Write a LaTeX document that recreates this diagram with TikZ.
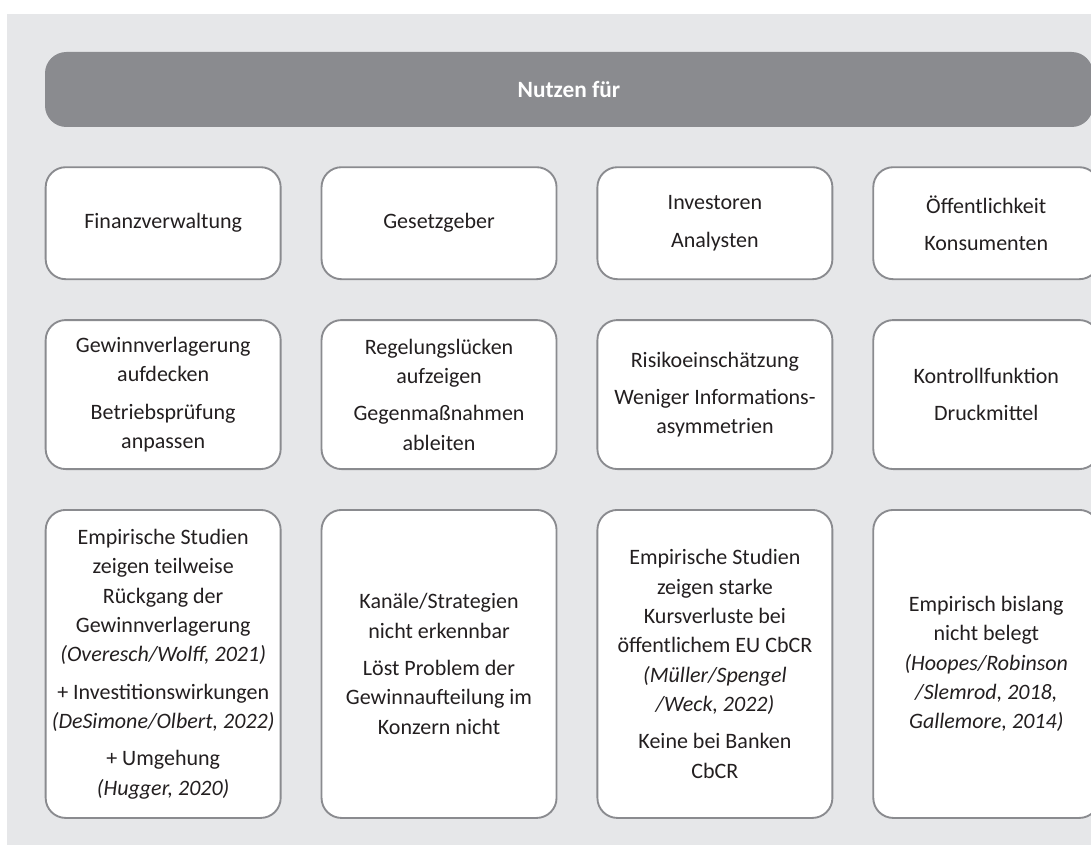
\documentclass[tikz,border=0pt]{standalone}
\usepackage{fontspec}
\setmainfont{Carlito}
\usetikzlibrary{positioning}

\definecolor{bggray}{HTML}{E6E7E9}
\definecolor{headgray}{HTML}{8A8B8F}
\definecolor{rimgray}{HTML}{8A8B8F}
\definecolor{textdark}{HTML}{231F20}

\begin{document}
\begin{tikzpicture}[
    x=0.75pt, y=-0.75pt,
    node distance=29.25pt,
    headstyle/.style={rectangle, rounded corners=16pt, fill=headgray, text=white, font=\fontsize{17.5}{22}\selectfont\bfseries, minimum width=786pt, minimum height=56.25pt, inner sep=0pt},
    boxstyle/.style={rectangle, rounded corners=15pt, draw=rimgray, line width=1.4pt, fill=white, text=textdark, font=\fontsize{16.5}{22}\selectfont, align=center, minimum width=176.25pt, inner sep=2pt},
    userbox/.style={boxstyle, minimum height=84pt},
    goalbox/.style={boxstyle, minimum height=111.75pt},
    studybox/.style={boxstyle, minimum height=231pt},
    lastcol/.style={minimum width=169.5pt}
]

% Frame
\useasboundingbox (0,0) rectangle (1091,845);
\fill[bggray] (7,14) rectangle (1091,845);

% Header
\node[headstyle] (head) at (569,89.5) {Nutzen für};

% Users
\node[userbox, below right=29.25pt and 0pt of head.south west] (fin) {Finanzverwaltung};
\node[userbox, right=of fin] (gesetz) {Gesetzgeber};
\node[userbox, right=of gesetz] (invest) {Investoren\\[6pt]Analysten};
\node[userbox, lastcol, right=of invest] (oeff) {Öffentlichkeit\\[6pt]Konsumenten};

% Goals
\node[goalbox, below=of fin] (fingoal) {Gewinnverlagerung\\aufdecken\\[6pt]Betriebsprüfung\\anpassen};
\node[goalbox, below=of gesetz] (gesetzgoal) {Regelungslücken\\aufzeigen\\[6pt]Gegenmaßnahmen\\ableiten};
\node[goalbox, below=of invest] (investgoal) {Risikoeinschätzung\\[6pt]Weniger Informations-\\asymmetrien};
\node[goalbox, lastcol, below=of oeff] (oeffgoal) {Kontrollfunktion\\[6pt]Druckmittel};

% Evidence
\node[studybox, below=of fingoal] (finstudy) {Empirische Studien\\zeigen teilweise\\Rückgang der\\Gewinnverlagerung\\\textit{(Overesch/Wolff, 2021)}\\[6pt]+ Investitionswirkungen\\\textit{(DeSimone/Olbert, 2022)}\\[6pt]+ Umgehung\\\textit{(Hugger, 2020)}};
\node[studybox, below=of gesetzgoal] (gesetzstudy) {Kanäle/Strategien\\nicht erkennbar\\[6pt]Löst Problem der\\Gewinnaufteilung im\\Konzern nicht};
\node[studybox, below=of investgoal] (investstudy) {Empirische Studien\\zeigen starke\\Kursverluste bei\\öffentlichem EU CbCR\\\textit{(Müller/Spengel}\\\textit{/Weck, 2022)}\\[6pt]Keine bei Banken\\CbCR};
\node[studybox, lastcol, below=of oeffgoal] (oeffstudy) {Empirisch bislang\\nicht belegt\\\textit{(Hoopes/Robinson}\\\textit{/Slemrod, 2018,}\\\textit{Gallemore, 2014)}};

\end{tikzpicture}
\end{document}
